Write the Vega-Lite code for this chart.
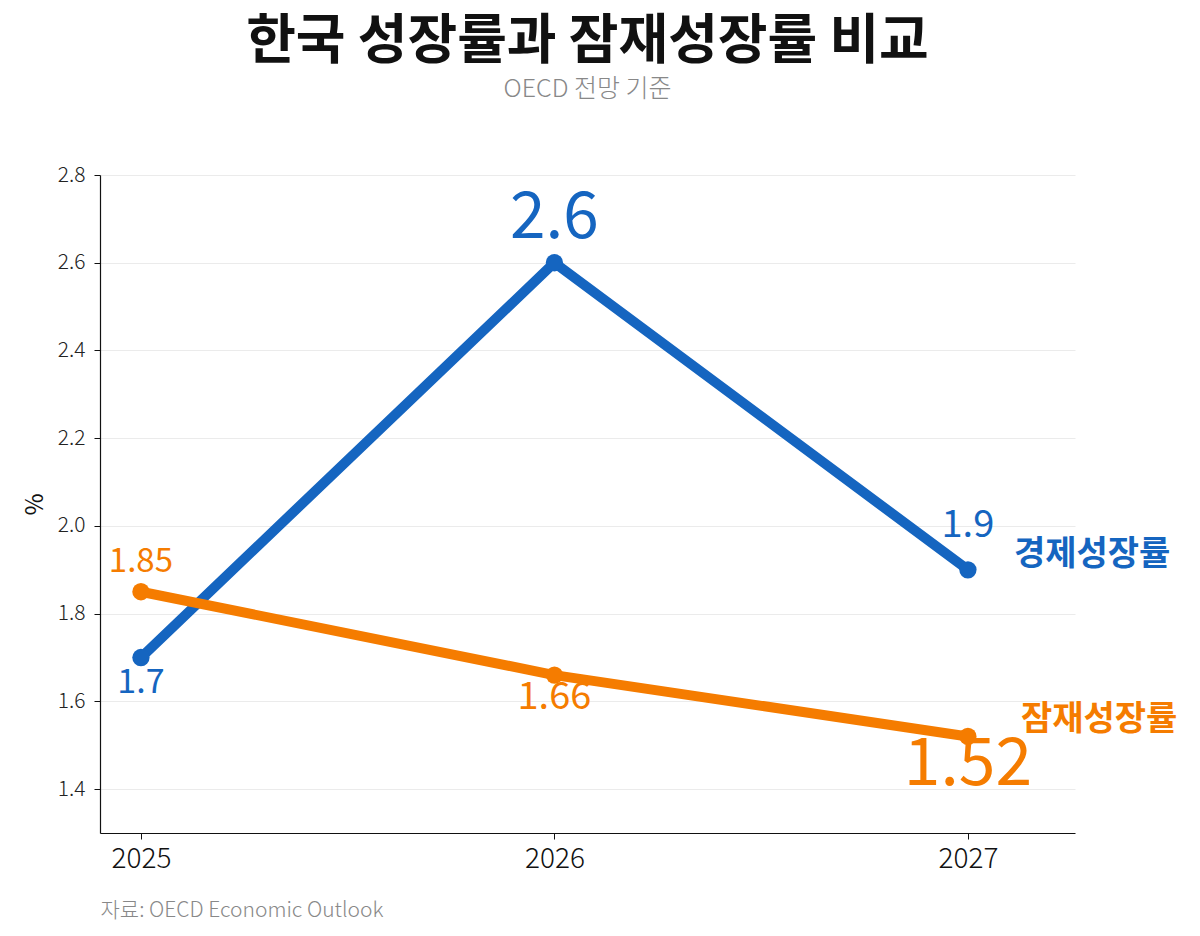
{
  "$schema": "https://vega.github.io/schema/vega-lite/v6.json",
  "width": 975,
  "height": 658,
  "autosize": "none",
  "padding": {"left": 100, "top": 175, "right": 125, "bottom": 103},
  "background": "white",
  "config": {
    "font": "Noto Sans CJK KR",
    "view": {"stroke": null}
  },
  "title": {
    "text": "한국 성장률과 잠재성장률 비교",
    "subtitle": "OECD 전망 기준",
    "fontSize": 54,
    "fontWeight": "bold",
    "color": "#111111",
    "subtitleFontSize": 25,
    "subtitleFontWeight": 300,
    "subtitleColor": "#888888",
    "subtitlePadding": 7,
    "anchor": "middle",
    "offset": 62
  },
  "data": {
    "values": [
      {"year": 2025, "series": "경제성장률", "value": 1.7},
      {"year": 2026, "series": "경제성장률", "value": 2.6},
      {"year": 2027, "series": "경제성장률", "value": 1.9},
      {"year": 2025, "series": "잠재성장률", "value": 1.85},
      {"year": 2026, "series": "잠재성장률", "value": 1.66},
      {"year": 2027, "series": "잠재성장률", "value": 1.52}
    ]
  },
  "encoding": {
    "x": {
      "field": "year",
      "type": "quantitative",
      "scale": {"domain": [2024.901, 2027.259], "nice": false, "zero": false},
      "axis": {
        "values": [2025, 2026, 2027],
        "format": "d",
        "grid": false,
        "domainColor": "#111111",
        "domainWidth": 1.2,
        "tickColor": "#111111",
        "tickSize": 6,
        "labelFontSize": 28,
        "labelFontWeight": 300,
        "labelColor": "#111111",
        "labelPadding": 6,
        "title": "자료: OECD Economic Outlook",
        "titleFontSize": 21,
        "titleFontWeight": 300,
        "titleColor": "#888888",
        "titleAnchor": "start",
        "titleAlign": "left",
        "titlePadding": 26
      }
    },
    "y": {
      "field": "value",
      "type": "quantitative",
      "scale": {"domain": [1.3, 2.8], "nice": false, "zero": false},
      "axis": {
        "values": [1.4, 1.6, 1.8, 2.0, 2.2, 2.4, 2.6, 2.8],
        "format": ".1f",
        "grid": true,
        "gridColor": "#ebebeb",
        "gridWidth": 1.2,
        "domainColor": "#111111",
        "domainWidth": 1.2,
        "tickColor": "#111111",
        "tickSize": 6,
        "labelFontSize": 21,
        "labelFontWeight": 300,
        "labelColor": "#222222",
        "labelPadding": 9,
        "title": "%",
        "titleFontSize": 24,
        "titleFontWeight": "normal",
        "titleColor": "#111111",
        "titlePadding": 10
      }
    },
    "color": {
      "field": "series",
      "type": "nominal",
      "scale": {"domain": ["경제성장률", "잠재성장률"], "range": ["#1565C0", "#F57C00"]},
      "legend": null
    }
  },
  "layer": [
    {"mark": {"type": "line", "strokeWidth": 10, "strokeCap": "round", "strokeJoin": "round"}},
    {"mark": {"type": "point", "filled": true, "opacity": 1, "size": 300}},
    {
      "transform": [{"filter": "datum.series == '잠재성장률' && datum.year == 2025"}],
      "mark": {"type": "text", "baseline": "alphabetic", "dy": -20, "fontSize": 33},
      "encoding": {"text": {"field": "value", "type": "nominal"}}
    },
    {
      "transform": [{"filter": "datum.series == '경제성장률' && datum.year == 2025"}],
      "mark": {"type": "text", "baseline": "top", "dy": 8, "fontSize": 34},
      "encoding": {"text": {"field": "value", "type": "nominal"}}
    },
    {
      "transform": [{"filter": "datum.series == '경제성장률' && datum.year == 2026"}],
      "mark": {"type": "text", "baseline": "alphabetic", "dy": -25, "fontSize": 64},
      "encoding": {"text": {"field": "value", "type": "nominal"}}
    },
    {
      "transform": [{"filter": "datum.series == '잠재성장률' && datum.year == 2026"}],
      "mark": {"type": "text", "baseline": "top", "dy": 4, "fontSize": 38},
      "encoding": {"text": {"field": "value", "type": "nominal"}}
    },
    {
      "transform": [{"filter": "datum.series == '경제성장률' && datum.year == 2027"}],
      "mark": {"type": "text", "baseline": "alphabetic", "dy": -33, "fontSize": 38},
      "encoding": {"text": {"field": "value", "type": "nominal"}}
    },
    {
      "transform": [{"filter": "datum.series == '잠재성장률' && datum.year == 2027"}],
      "mark": {"type": "text", "baseline": "top", "dy": -3, "fontSize": 66},
      "encoding": {"text": {"field": "value", "type": "nominal"}}
    },
    {
      "transform": [{"filter": "datum.series == '경제성장률' && datum.year == 2027"}],
      "mark": {"type": "text", "align": "left", "baseline": "middle", "dx": 46, "dy": -15, "fontSize": 34, "fontWeight": "bold"},
      "encoding": {"text": {"field": "series", "type": "nominal"}}
    },
    {
      "transform": [{"filter": "datum.series == '잠재성장률' && datum.year == 2027"}],
      "mark": {"type": "text", "align": "left", "baseline": "middle", "dx": 53, "dy": -16, "fontSize": 34, "fontWeight": "bold"},
      "encoding": {"text": {"field": "series", "type": "nominal"}}
    }
  ]
}
